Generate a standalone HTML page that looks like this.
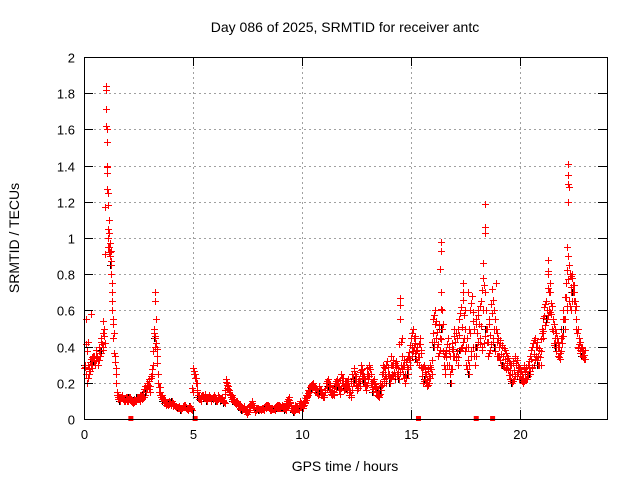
<!DOCTYPE html>
<html><head><meta charset="utf-8"><style>
body{margin:0;background:#fff}
svg{display:block;font-family:"Liberation Sans",sans-serif}
</style></head><body>
<svg id="chart" width="640" height="480" viewBox="0 0 640 480" xmlns="http://www.w3.org/2000/svg">
<rect width="640" height="480" fill="#fff"/>
<g id="grid"></g>
<g id="marks"></g>
<rect x="84.5" y="57.5" width="523" height="362" fill="none" stroke="#000" stroke-width="1"/>
<g id="ticks"></g>
<text x="345" y="32" font-size="14" text-anchor="middle">Day 086 of 2025, SRMTID for receiver antc</text>
<text x="345" y="471" font-size="14" text-anchor="middle">GPS time / hours</text>
<text transform="translate(19,238) rotate(-90)" font-size="14" text-anchor="middle">SRMTID / TECUs</text>
</svg>
<script>
const xTicks=[0,5,10,15,20];
const yTicks=[0,0.2,0.4,0.6,0.8,1,1.2,1.4,1.6,1.8,2];
const yTickLabels=["0","0.2","0.4","0.6","0.8","1","1.2","1.4","1.6","1.8","2"];
const seriesA=[
.28,.55,.3,.33,.35,.3,.35,.4,.45,.5,
1.84,.95,.9,.6,.35,.15,.12,.12,.11,.1,
.1,.12,.1,.11,.1,.12,.13,.15,.18,.2,
.22,.25,.5,.42,.2,.15,.12,.1,.09,.1,
.08,.07,.07,.06,.06,.06,.07,.06,.06,.06,
.28,.25,.15,.12,.13,.12,.11,.12,.12,.11,
.12,.1,.12,.11,.1,.22,.18,.14,.12,.1,
.1,.08,.07,.06,.05,.03,.07,.1,.06,.05,
.06,.05,.06,.07,.08,.06,.05,.06,.07,.08,
.07,.08,.06,.1,.12,.07,.05,.08,.06,.1,
.08,.1,.13,.16,.19,.2,.17,.15,.18,.15,
.12,.2,.22,.16,.15,.2,.22,.18,.25,.2,
.2,.22,.15,.25,.28,.2,.22,.3,.25,.22,
.28,.3,.2,.22,.17,.15,.2,.3,.28,.32,
.25,.35,.3,.32,.28,.55,.35,.3,.33,.37,
.45,.5,.42,.38,.45,.28,.3,.25,.28,.3,
.55,.6,.48,.52,.7,.35,.38,.45,.35,.42,
.5,.45,.55,.62,.7,.5,.4,.6,.68,.5,
.55,.6,.65,.78,.7,.5,.55,.72,.6,.5,
.45,.42,.4,.38,.35,.32,.3,.32,.35,.3,
.28,.25,.3,.28,.32,.38,.42,.45,.4,.38,
.5,.62,.65,.8,.7,.55,.5,.45,.4,.5,
.6,.75,.9,.8,.78,.7,.55,.45,.4,.38];
const seriesB=[
.3,.2,.25,.28,.32,.38,.3,.35,.38,.42,
1.4,1.1,.85,.45,.28,.12,.1,.13,.1,.12,
.12,.1,.09,.1,.12,.1,.11,.12,.15,.18,
.15,.3,.45,.35,.15,.12,.1,.08,.08,.09,
.1,.08,.06,.07,.05,.07,.08,.05,.07,.05,
.25,.2,.12,.1,.12,.14,.1,.13,.1,.13,
.1,.13,.1,.12,.09,.19,.15,.12,.1,.09,
.08,.06,.05,.07,.04,.05,.08,.08,.04,.06,
.05,.06,.05,.06,.07,.05,.06,.05,.06,.06,
.06,.06,.05,.08,.09,.05,.04,.06,.05,.08,
.06,.09,.12,.15,.17,.18,.16,.13,.15,.12,
.15,.17,.18,.14,.13,.17,.18,.14,.2,.16,
.17,.15,.12,.2,.22,.16,.18,.24,.2,.16,
.22,.25,.15,.18,.13,.12,.16,.22,.2,.25,
.2,.25,.22,.25,.22,.3,.25,.2,.25,.3,
.35,.4,.33,.3,.38,.2,.22,.18,.2,.25,
.4,.45,.35,.38,.5,.25,.3,.3,.2,.35,
.35,.3,.38,.4,.45,.3,.25,.35,.4,.3,
.4,.45,.38,.42,.5,.35,.38,.45,.4,.35,
.35,.3,.3,.28,.27,.22,.2,.22,.25,.22,
.22,.2,.22,.22,.25,.28,.3,.35,.3,.3,
.45,.52,.55,.6,.58,.42,.4,.35,.33,.42,
.5,.6,.65,.6,.7,.6,.4,.38,.35,.33];
const peakTimes=[1.02,1.03,1.04,1.05,1.06,1.07,1.08,1.1,1.12,1.15,1.18,1.2,1.22,1.25,1.3,1.35,0.85,0.3,3.25,3.25,3.3,14.5,14.5,16.4,16.4,16.35,18.4,18.4,18.4,18.3,22.2,22.2,22.2,22.25,22.2,22.15,21.3,21.3,17.4,17.6,18.9,22.4,22.35];
const peakValues=[1.82,1.71,1.6,1.53,1.36,1.27,1.18,1.05,1.0,.95,.92,.9,.93,.8,.7,.55,.54,.58,.7,.65,.55,.67,.63,.98,.93,.83,1.19,1.06,1.03,.86,1.41,1.35,1.3,1.28,1.2,.95,.88,.82,.75,.7,.75,.8,.73];
const zeroTimes=[2.15,5.1,15.35,18.0,18.75];
const NS="http://www.w3.org/2000/svg";
const X0=84,X1=607,Y0=419,Y1=57;
function xs(t){return X0+t/24*(X1-X0);}
function ys(v){return Y0-v/2*(Y0-Y1);}
function mk(tag,attrs,parent){const e=document.createElementNS(NS,tag);for(const k in attrs)e.setAttribute(k,attrs[k]);parent.appendChild(e);return e;}
const grid=document.getElementById('grid'),ticks=document.getElementById('ticks'),marks=document.getElementById('marks');
yTicks.forEach((v,i)=>{
  const y=Math.round(ys(v))+0.5;
  if(i>0&&i<yTicks.length-1){const g=mk('line',{x1:X0,x2:X1,y1:y,y2:y,stroke:'#a0a0a0','stroke-dasharray':'2,3'},grid);
  
  }
  mk('line',{x1:X0,x2:X0+9,y1:y,y2:y,stroke:'#000'},ticks);
  mk('line',{x1:X1-9,x2:X1,y1:y,y2:y,stroke:'#000'},ticks);
  const t=mk('text',{x:X0-9,y:y+5,'font-size':13,'text-anchor':'end'},ticks);
  t.textContent=yTickLabels[i];
  
  
});
xTicks.forEach(v=>{
  const x=Math.round(xs(v))+0.5;
  if(v>0){const g=mk('line',{x1:x,x2:x,y1:Y1,y2:Y0,stroke:'#a0a0a0','stroke-dasharray':'2,3'},grid);
  
  }
  mk('line',{x1:x,x2:x,y1:Y0,y2:Y0-9,stroke:'#000'},ticks);
  mk('line',{x1:x,x2:x,y1:Y1,y2:Y1+9,stroke:'#000'},ticks);
  const t=mk('text',{x:x,y:Y0+20,'font-size':13,'text-anchor':'middle'},ticks);
  t.textContent=String(v);
  
  
});
function plus(t,v,color){
  const x=Math.round(xs(t))+0.5,y=Math.round(ys(v))+0.5;
  const p=mk('path',{d:`M${x-3.5},${y}H${x+3.5}M${x},${y-3.5}V${y+3.5}`,stroke:color,'stroke-width':1,fill:'none'},marks);
  
  
}
seriesA.forEach((v,i)=>{
  const t=i*0.1;
  if(i%4===0)plus(t,seriesB[i],'#000');
  plus(t,v,'#ff0000');
  plus(t+0.05,seriesB[i],'#ff0000');
  const n=i+1<seriesA.length?seriesA[i+1]:v;
  const nb=i+1<seriesB.length?seriesB[i+1]:seriesB[i];
  plus(t+0.03,(v+seriesB[i])/2,'#ff0000');
  plus(t+0.07,(v+n)/2,'#ff0000');
  plus(t+0.08,(seriesB[i]+nb)/2,'#ff0000');
});
peakTimes.forEach((t,i)=>plus(t,peakValues[i],'#ff0000'));
zeroTimes.forEach(t=>{
  const r=mk('rect',{x:xs(t)-2.5,y:Y0-3,width:5,height:5,fill:'#ff0000'},marks);
  
  
});
</script>
</body></html>
